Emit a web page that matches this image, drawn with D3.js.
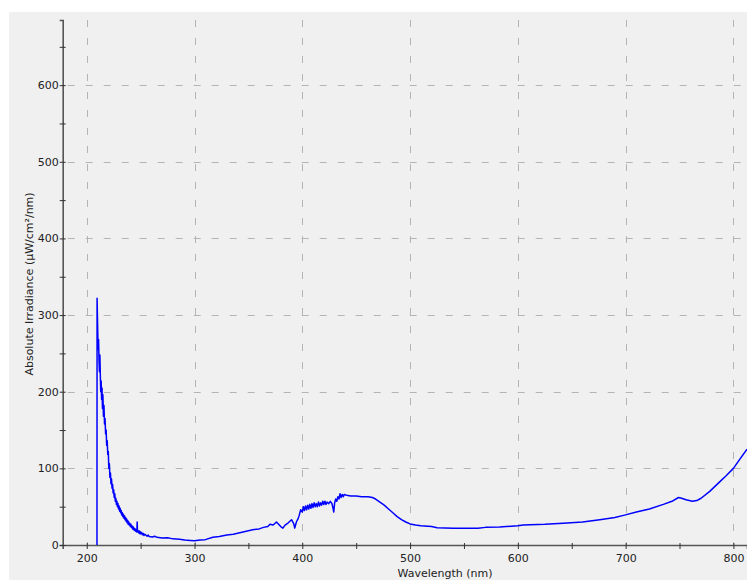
<!DOCTYPE html>
<html>
<head>
<meta charset="utf-8">
<script src="https://cdn.jsdelivr.net/npm/d3@7"></script>
<style>
  body { margin: 0; background: #fff; }
  svg { display: block; }
  text { font-family: "DejaVu Sans", Verdana, sans-serif; fill: #222; }
</style>
</head>
<body>
<div id="chart"></div>
<script>
// spectrum (nm, uW/cm2/nm)
var wavelength = [
  209.5, 209.6, 210.3, 210.6, 211.0, 211.4, 211.8, 212.2, 212.6, 213.0,
  213.4, 213.8, 214.2, 214.6, 215.0, 215.5, 216.0, 216.5, 217.0, 217.5,
  218.0, 218.5, 219.0, 219.5, 220.0, 220.5, 221.0, 221.5, 222.0, 222.5,
  223.0, 223.5, 224.0, 224.5, 225.0, 225.5, 226.0, 226.5, 227.0, 227.5,
  228.0, 228.5, 229.0, 229.5, 230.0, 230.5, 231.0, 231.5, 232.0, 232.5,
  233.0, 233.5, 234.0, 234.5, 235.0, 235.5, 236.0, 236.5, 237.0, 237.5,
  238.0, 238.5, 239.0, 239.5, 240.0, 240.5, 241.0, 241.5, 242.0, 242.5,
  243.0, 243.5, 244.0, 244.5, 245.0, 245.5, 246.0, 246.5, 246.8, 247.1,
  248.0, 248.5, 249.0, 249.5, 250.0, 251.0, 251.5, 252.5, 253.0, 254.0,
  256.0, 257.0, 258.0, 261.0, 263.0, 265.0, 270.0, 275.0, 280.0, 286.0,
  291.0, 296.0, 300.0, 305.0, 310.0, 317.0, 323.0, 330.0, 336.0, 342.0,
  348.0, 354.0, 360.0, 364.0, 368.0, 370.0, 373.0, 376.0, 378.0, 380.0,
  382.0, 384.0, 387.0, 390.0, 392.0, 393.0, 394.5, 396.0, 397.0, 398.5,
  400.0, 401.0, 402.0, 403.0, 404.0, 405.0, 406.0, 407.0, 408.0, 409.0,
  410.0, 411.0, 412.0, 413.0, 414.0, 415.0, 416.0, 417.0, 418.0, 419.0,
  420.0, 421.0, 422.0, 423.0, 424.5, 426.0, 427.5, 428.5, 429.2, 430.0,
  431.0, 432.0, 433.0, 434.0, 435.0, 436.0, 437.0, 438.0, 439.0, 441.0,
  445.0, 450.0, 455.0, 461.0, 465.0, 468.0, 472.0, 476.0, 480.0, 484.0,
  488.0, 492.0, 496.0, 500.0, 505.0, 510.0, 520.0, 525.0, 540.0, 563.0,
  570.0, 583.0, 600.0, 605.0, 625.0, 642.0, 660.0, 676.0, 690.0, 699.0,
  710.0, 722.0, 735.0, 743.0, 749.0, 752.0, 756.0, 762.0, 766.0, 770.0,
  778.0, 787.0, 793.0, 800.0, 806.0, 812.6
];
var irradiance = [
  0, 322, 272, 255, 268, 240, 226, 248, 222, 200,
  214, 190, 205, 178, 196, 168, 182, 158, 165, 145,
  150, 130, 136, 118, 122, 100, 106, 88, 94, 80,
  86, 74, 79, 68, 72, 62, 67, 57, 61, 53,
  57, 50, 54, 47, 51, 44, 48, 42, 45, 39,
  42, 37, 40, 35, 38, 33, 36, 31, 34, 29,
  32, 27, 30, 26, 28, 24, 27, 23, 25, 21,
  24, 20, 22, 19, 21, 18, 20, 17, 30, 19,
  16, 18.5, 15, 17.5, 14.5, 16.5, 13.5, 15, 12.5, 14,
  11.5, 13, 11, 10.5, 11.5, 10, 9, 9.5, 8, 7.5,
  6.5, 6, 5.5, 6.5, 7, 10, 11, 13, 14, 16,
  18, 20, 21, 23, 24, 27, 26, 30, 27, 24,
  22, 26, 29, 33, 28, 22, 30, 34, 38, 46,
  43, 50, 45, 51, 46, 52, 47, 53, 48, 54,
  49, 55, 50, 54, 50, 56, 51, 55, 52, 57,
  53, 57, 53, 56, 54, 57, 54, 48, 43, 55,
  60, 57, 63, 60, 67, 62, 66, 63, 66, 65,
  64, 64, 63, 63, 62, 60, 56, 52, 47, 42,
  37, 33, 30, 27.5, 26, 25, 24, 22.5, 22, 22,
  23, 23.5, 25, 26, 27, 28.5, 30, 33, 36, 39,
  43, 47, 53, 57, 62, 61, 59, 57, 58, 61,
  70, 82, 90, 100, 112, 125
];
var xTicks = [200, 300, 400, 500, 600, 700, 800];
var xMinor = [250, 350, 450, 550, 650, 750];
var yTicks = [0, 100, 200, 300, 400, 500, 600];
var yMinor = [50, 150, 250, 350, 450, 550, 650];

var width = 747, height = 580;

var svg = d3.select("#chart").append("svg")
    .attr("width", width)
    .attr("height", height);

// grey panel
svg.append("rect")
    .attr("x", 9).attr("y", 12)
    .attr("width", width - 9).attr("height", height - 12)
    .style("fill", "#f0f0f0");

var xScale = d3.scaleLinear().domain([177.7, 812.6]).range([62.7, 747]);
var yScale = d3.scaleLinear().domain([0, 685]).range([545, 20]);

// dashed grid
svg.append("g").selectAll("line")
    .data(xTicks)
    .enter().append("line")
        .attr("x1", function(d) { return Math.round(xScale(d)) + 0.5; })
        .attr("x2", function(d) { return Math.round(xScale(d)) + 0.5; })
        .attr("y1", yScale.range()[1])
        .attr("y2", yScale.range()[0])
        .style("stroke", "#b4b4b4")
        .style("stroke-dasharray", "7,11");

svg.append("g").selectAll("line")
    .data(yTicks.slice(1))
    .enter().append("line")
        .attr("x1", xScale.range()[0] + 5)
        .attr("x2", xScale.range()[1])
        .attr("y1", function(d) { return Math.round(yScale(d)) + 0.5; })
        .attr("y2", function(d) { return Math.round(yScale(d)) + 0.5; })
        .style("stroke", "#b4b4b4")
        .style("stroke-dasharray", "7,11");

// axes
var xAxis = svg.append("g")
    .attr("transform", "translate(0," + yScale(0) + ")")
    .call(d3.axisBottom(xScale).tickValues(xTicks.concat(xMinor)).tickSize(4)
        .tickFormat(function(d) { return xTicks.indexOf(d) >= 0 ? d : ""; }));
xAxis.select(".domain").style("stroke", "#555").style("stroke-width", 1.6);
xAxis.selectAll(".tick line").attr("y1", -2).style("stroke", "#333");
xAxis.selectAll(".tick text").attr("y", 9).style("font-size", "11px").style("fill", "#222");

var yAxis = svg.append("g")
    .attr("transform", "translate(" + xScale.range()[0] + ",0)")
    .call(d3.axisLeft(yScale).tickValues(yTicks.concat(yMinor)).tickSize(3)
        .tickFormat(function(d) { return yTicks.indexOf(d) >= 0 ? d : ""; }));
yAxis.select(".domain").style("stroke", "#555").style("stroke-width", 1.6);
yAxis.selectAll(".tick line").attr("x2", 3).attr("x1", -3).style("stroke", "#333");
yAxis.selectAll(".tick text").attr("x", -4).style("font-size", "11px").style("fill", "#222");

// spectrum
var points = wavelength.map(function(w, i) { return [w, irradiance[i]]; });
var line = d3.line()
    .x(function(d) { return xScale(d[0]); })
    .y(function(d) { return yScale(d[1]); });

svg.append("path")
    .datum(points)
    .attr("d", line)
    .style("fill", "none")
    .style("stroke", "#0000ff")
    .style("stroke-width", 1.5)
    .style("stroke-linejoin", "round");

// axis titles
svg.append("text")
    .attr("x", 445).attr("y", 577)
    .attr("text-anchor", "middle")
    .style("font-size", "11px")
    .text("Wavelength (nm)");

svg.append("text")
    .attr("transform", "translate(33,284) rotate(-90)")
    .attr("text-anchor", "middle")
    .style("font-size", "11px")
    .text("Absolute Irradiance (µW/cm²/nm)");
</script>
</body>
</html>
